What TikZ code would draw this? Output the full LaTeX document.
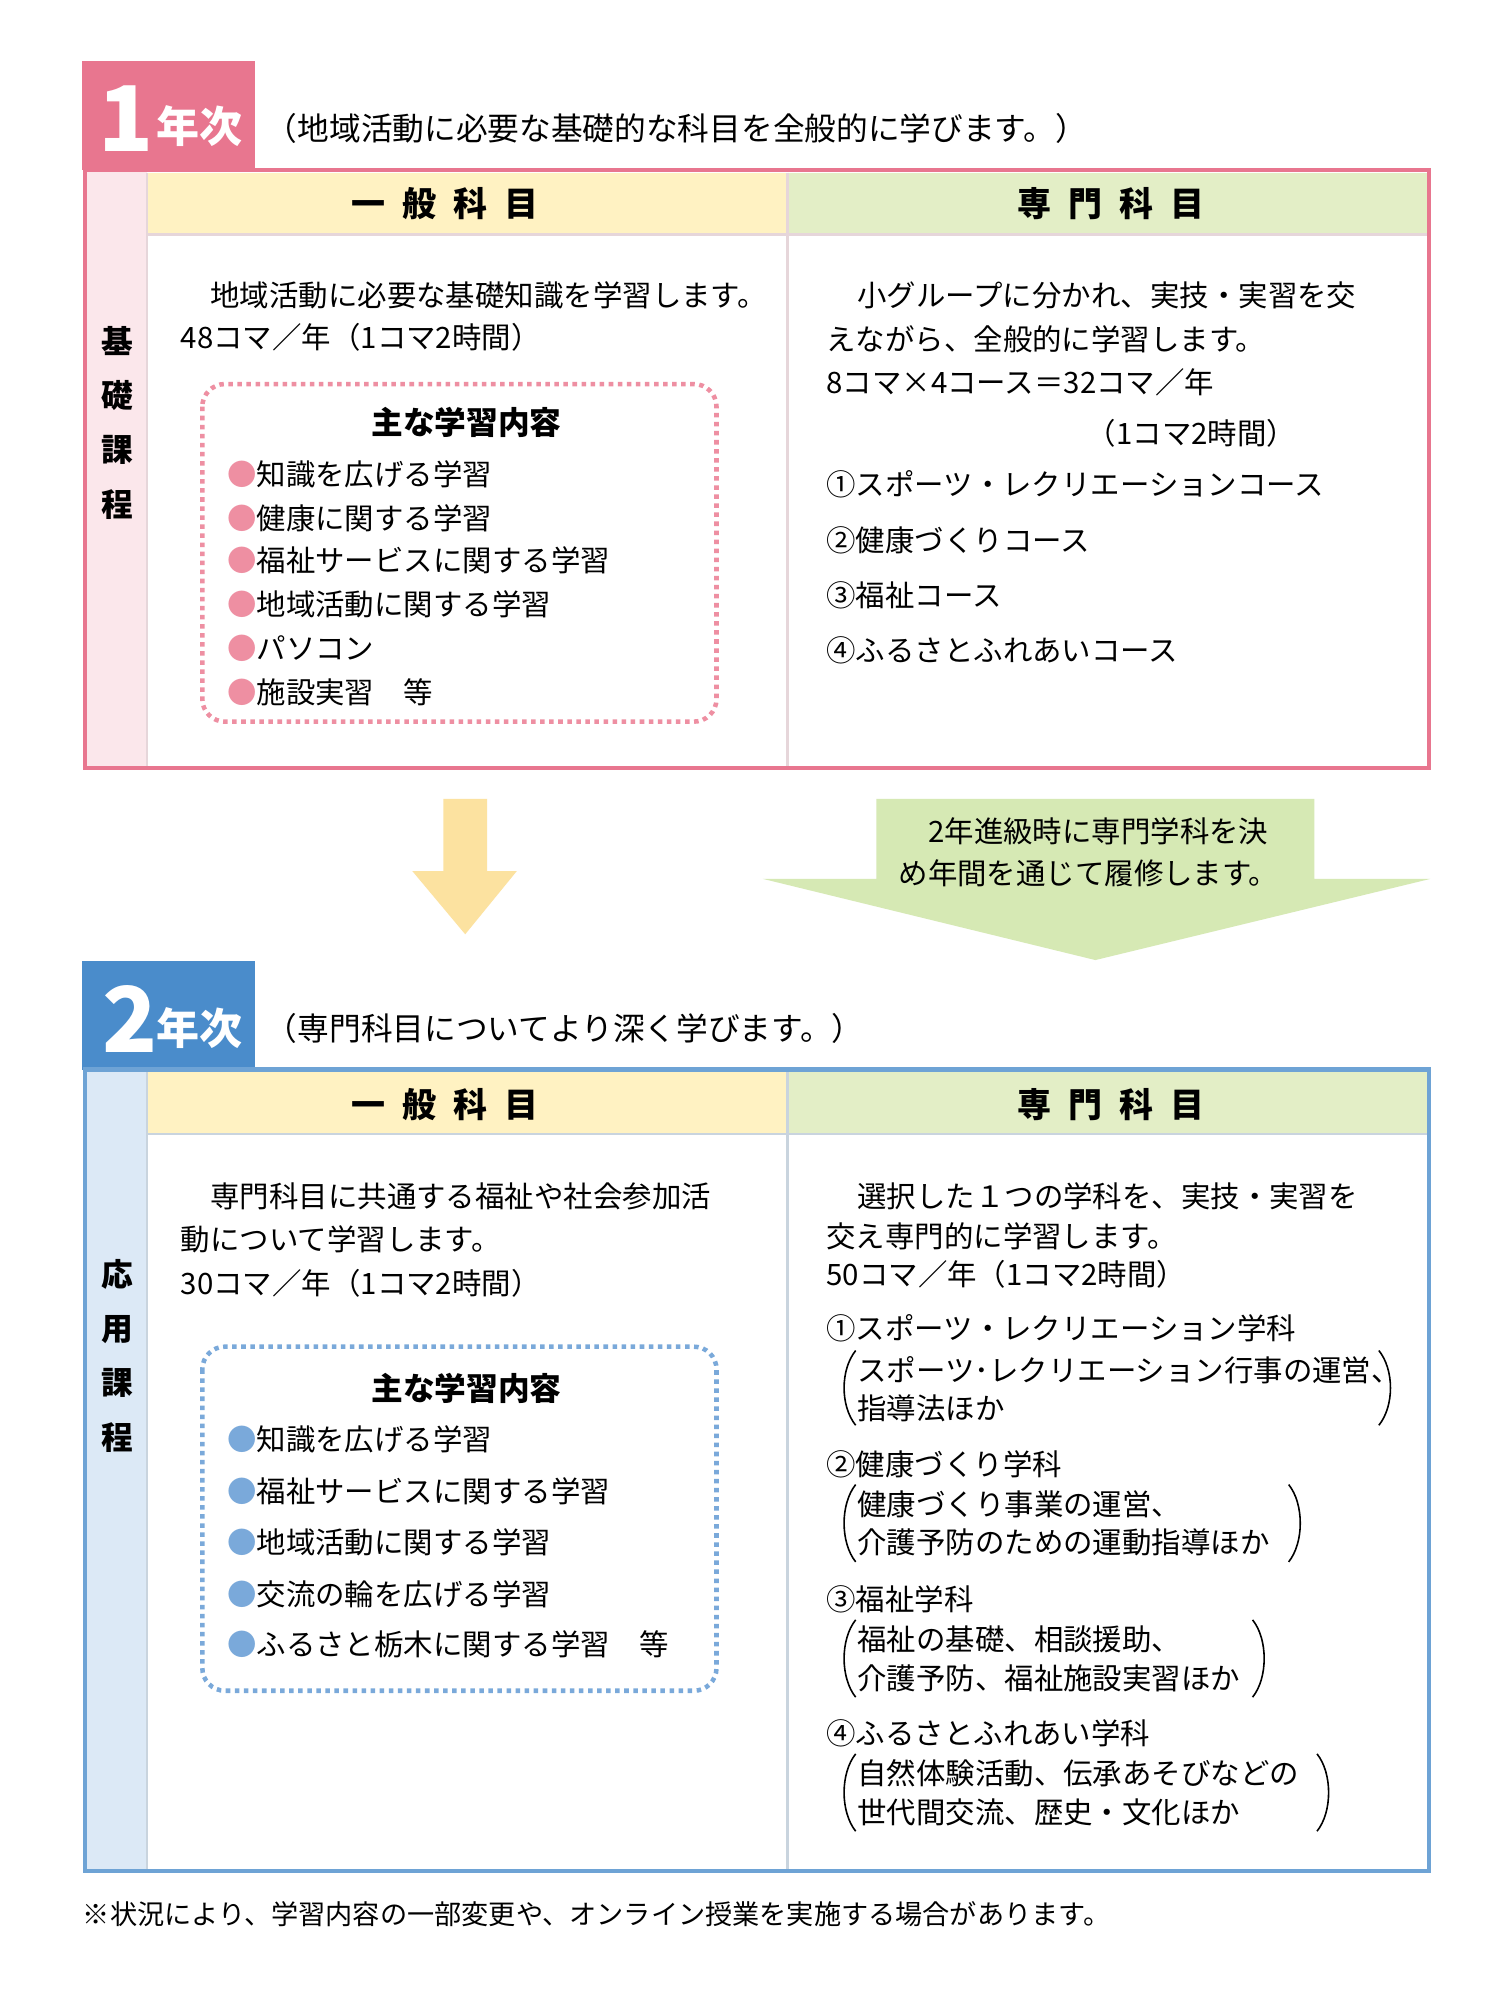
\documentclass[tikz,border=0pt]{standalone}
\usepackage{fontspec}
\setmainfont{Noto Sans CJK JP}
\usepackage{xcolor}
\usetikzlibrary{positioning}
\definecolor{pinkmain}{HTML}{E8768F}
\definecolor{pinklight}{HTML}{FBE7EB}
\definecolor{bluemain}{HTML}{4A8CCB}
\definecolor{bluelight}{HTML}{DCE9F6}
\definecolor{yellowhead}{HTML}{FFF2C2}
\definecolor{greenhead}{HTML}{E3EEC6}
\definecolor{yellowarrow}{HTML}{FCE2A0}
\definecolor{greenarrow}{HTML}{D6E9B4}
\definecolor{pinkdot}{HTML}{EE8FA2}
\definecolor{bluedot}{HTML}{7AA9DA}
\definecolor{divline}{HTML}{E6D6DA}
\tikzset{
  txt/.style={anchor=west,inner sep=0pt,font=\fontsize{13pt}{16pt}\selectfont},
  headtxt/.style={inner sep=0pt,font=\fontsize{15pt}{18pt}\selectfont\bfseries},
  vert/.style={align=center,inner sep=0pt,font=\fontsize{14pt}{24pt}\selectfont\bfseries},
  paren/.style={line width=0.7pt}
}
\newcommand{\pb}{\textcolor{pinkdot}{●}}
\newcommand{\bb}{\textcolor{bluedot}{●}}
\newcommand{\hsp}{\hspace{0.5em}}
\begin{document}
\begin{tikzpicture}[x=0.02cm,y=-0.02cm]
\useasboundingbox[fill=white] (0,0) rectangle (1164,1552);

% 1 nenji
\fill [pinkmain] (64,47) rectangle (198,132);
\node [white,inner sep=0pt,font=\fontsize{40pt}{40pt}\selectfont\bfseries] (y1num) at (98,92) {1};
\node [white,inner sep=0pt,font=\fontsize{19pt}{20pt}\selectfont\bfseries] (y1lab) at (155,98) {年次};
\node [txt,font=\fontsize{14pt}{16pt}\selectfont] (y1sub) at (206,100) {（地域活動に必要な基礎的な科目を全般的に学びます。）};

\fill [pinklight] (66,132) rectangle (114,596);
\fill [yellowhead] (114,134) rectangle (610,182);
\fill [greenhead] (612,134) rectangle (1108,182);
\draw [divline,line width=1.2pt] (114,182)--(1108,182);
\draw [divline,line width=1.2pt] (611,134)--(611,596);
\draw [divline,line width=1.2pt] (114,134)--(114,596);
\draw [pinkmain,line width=2pt] (66,132) rectangle (1109,596);
\node [headtxt] (g1) at (345,158) {一\hsp 般\hsp 科\hsp 目};
\node [headtxt] (s1) at (862,158) {専\hsp 門\hsp 科\hsp 目};
\node [vert] (k1) at (91,328) {基\\礎\\課\\程};

\node [txt] at (163,229) {地域活動に必要な基礎知識を学習します。};
\node [txt] at (140,262) {48コマ／年（1コマ2時間）};
\draw [pinkdot,line width=2pt,dotted,rounded corners=10pt] (157,298) rectangle (556,560);
\node [txt,font=\fontsize{14pt}{16pt}\selectfont\bfseries,anchor=center] at (362,328) {主な学習内容};
\node [txt] at (176,368) {\pb 知識を広げる学習};
\node [txt] at (176,402) {\pb 健康に関する学習};
\node [txt] at (176,435) {\pb 福祉サービスに関する学習};
\node [txt] at (176,469) {\pb 地域活動に関する学習};
\node [txt] at (176,503) {\pb パソコン};
\node [txt] at (176,537) {\pb 施設実習\quad 等};

\node [txt] at (665,229) {小グループに分かれ、実技・実習を交};
\node [txt] at (641,263) {えながら、全般的に学習します。};
\node [txt] at (641,297) {8コマ×4コース＝32コマ／年};
\node [txt] at (843,336) {（1コマ2時間）};
\node [txt] at (641,376) {①スポーツ・レクリエーションコース};
\node [txt] at (641,419) {②健康づくりコース};
\node [txt] at (641,462) {③福祉コース};
\node [txt] at (641,505) {④ふるさとふれあいコース};

% arrows
\fill [yellowarrow] (344,620)--(378,620)--(378,676)--(401,676)--(361,725)--(320,676)--(344,676)--cycle;
\fill [greenarrow] (680,620)--(1020,620)--(1020,682)--(1110,682)--(850,745)--(592,682)--(680,682)--cycle;
\node [txt] at (720,645) {2年進級時に専門学科を決};
\node [txt] at (697,678) {め年間を通じて履修します。};

% 2 nenji
\fill [bluemain] (64,746) rectangle (198,830);
\node [white,inner sep=0pt,font=\fontsize{40pt}{40pt}\selectfont\bfseries] (y2num) at (101,791) {2};
\node [white,inner sep=0pt,font=\fontsize{19pt}{20pt}\selectfont\bfseries] (y2lab) at (155,798) {年次};
\node [txt,font=\fontsize{14pt}{16pt}\selectfont] (y2sub) at (206,798) {（専門科目についてより深く学びます。）};

\fill [bluelight] (66,830) rectangle (114,1452);
\fill [yellowhead] (114,832) rectangle (610,880);
\fill [greenhead] (612,832) rectangle (1108,880);
\draw [bluelight!80!gray,line width=1.2pt] (114,880)--(1108,880);
\draw [bluelight!80!gray,line width=1.2pt] (611,832)--(611,1452);
\draw [bluelight!80!gray,line width=1.2pt] (114,832)--(114,1452);
\draw [bluemain!80,line width=2pt] (66,830) rectangle (1109,1452);
\node [headtxt] (g2) at (345,857) {一\hsp 般\hsp 科\hsp 目};
\node [headtxt] (s2) at (862,857) {専\hsp 門\hsp 科\hsp 目};
\node [vert] (k2) at (91,1052) {応\\用\\課\\程};

\node [txt] at (163,928) {専門科目に共通する福祉や社会参加活};
\node [txt] at (140,962) {動について学習します。};
\node [txt] at (140,996) {30コマ／年（1コマ2時間）};
\draw [bluedot,line width=2pt,dotted,rounded corners=10pt] (157,1045) rectangle (556,1312);
\node [txt,font=\fontsize{14pt}{16pt}\selectfont\bfseries,anchor=center] at (362,1077) {主な学習内容};
\node [txt] at (176,1117) {\bb 知識を広げる学習};
\node [txt] at (176,1157) {\bb 福祉サービスに関する学習};
\node [txt] at (176,1197) {\bb 地域活動に関する学習};
\node [txt] at (176,1237) {\bb 交流の輪を広げる学習};
\node [txt] at (176,1276) {\bb ふるさと栃木に関する学習\quad 等};

\node [txt] at (665,928) {選択した１つの学科を、実技・実習を};
\node [txt] at (641,959) {交え専門的に学習します。};
\node [txt] at (641,989) {50コマ／年（1コマ2時間）};
\node [txt] at (641,1031) {①スポーツ・レクリエーション学科};
\node [txt] at (665,1063) {スポーツ･レクリエーション行事の運営、};
\node [txt] at (665,1093) {指導法ほか};
\node [txt] at (641,1136) {②健康づくり学科};
\node [txt] at (665,1167) {健康づくり事業の運営、};
\node [txt] at (665,1197) {介護予防のための運動指導ほか};
\node [txt] at (641,1241) {③福祉学科};
\node [txt] at (665,1272) {福祉の基礎、相談援助、};
\node [txt] at (665,1302) {介護予防、福祉施設実習ほか};
\node [txt] at (641,1345) {④ふるさとふれあい学科};
\node [txt] at (665,1376) {自然体験活動、伝承あそびなどの};
\node [txt] at (665,1406) {世代間交流、歴史・文化ほか};

% parentheses
\foreach \ya/\yb/\xr in {1048/1106/1070, 1152/1212/1000, 1257/1317/972, 1361/1421/1022}{
  \draw [paren] (664,\ya) .. controls (652,\ya+15) and (652,\yb-15) .. (664,\yb);
  \draw [paren] (\xr,\ya) .. controls (\xr+12,\ya+15) and (\xr+12,\yb-15) .. (\xr,\yb);
}

\node [txt,font=\fontsize{12pt}{14pt}\selectfont] (note) at (64,1485) {※状況により、学習内容の一部変更や、オンライン授業を実施する場合があります。};
\end{tikzpicture}
\end{document}
